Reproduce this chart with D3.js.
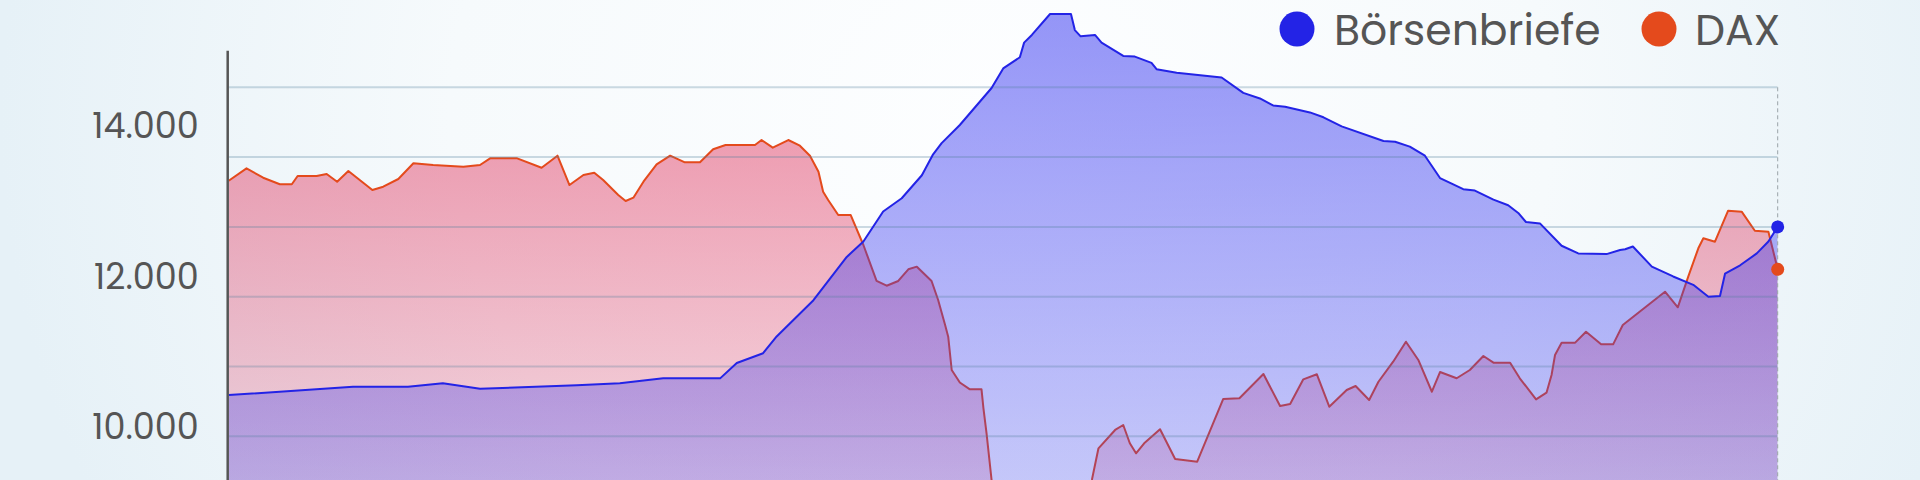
<!DOCTYPE html>
<html><head><meta charset="utf-8">
<script src="https://cdn.jsdelivr.net/npm/d3@7"></script>
<style>
html,body{margin:0;padding:0;width:1920px;height:480px;overflow:hidden;}
svg{display:block;}
</style></head>
<body>
<svg id="chart" width="1920" height="480"></svg>
<script>
// ---- data (x = day index of the period) ----
const seriesNames = ["Börsenbriefe", "DAX"];
const seriesColors = ["#2323e6", "#e44a1c"];
const daxTickLabels = [10000, 12000, 14000];
const gridValues = [110, 120, 130, 140, 150, 160];

const boersenDays = [0,32.1,46.3,55.3,64.9,89.9,101.0,112.2,126.9,131.2,138.0,141.5,151.0,159.6,163.9,169.0,173.8,179.0,181.9,184.1,188.8,197.0,200.0,204.3,205.4,207.4,212.1,217.5,218.5,220.0,223.7,225.4,231.0,234.0,238.3,239.6,244.8,256.4,262.0,266.3,269.7,272.8,279.2,282.7,287.4,298.2,301.2,305.0,308.9,312.8,315.4,318.8,321.8,326.6,330.4,333.0,335.0,338.6,344.2,348.5,355.8,359.3,360.6,362.6,367.5,373.0,378.2,382.1,385.1,386.4,390.3,394.6,397.6,400];
const boersenValues = [115.9,117.1,117.1,117.6,116.8,117.3,117.6,118.3,118.3,120.5,121.9,124.3,129.5,135.7,137.9,142.2,144.1,147.4,150.4,152.0,154.6,159.9,162.7,164.3,166.4,167.5,170.5,170.5,168.2,167.3,167.5,166.4,164.5,164.4,163.5,162.6,162.1,161.4,159.2,158.4,157.4,157.2,156.4,155.7,154.4,152.3,152.2,151.5,150.2,147.0,146.3,145.4,145.2,143.9,143.1,142.0,140.7,140.5,137.3,136.2,136.1,136.7,136.8,137.2,134.3,132.9,131.7,130.0,130.1,133.3,134.5,136.2,137.9,140.0];

const daxDays = [0,4.6,8.9,13.2,16.3,17.8,22.7,25.3,28.0,30.9,37.1,39.9,43.8,47.7,52.8,60.6,64.9,67.5,74.5,80.8,84.9,88.0,91.6,94.4,96.7,100.6,102.5,104.5,107.1,110.5,114.0,117.8,121.7,125.1,128.3,135.9,137.6,140.5,144.5,147.5,150.1,152.3,153.5,154.8,157.4,160.6,163.9,167.3,169.9,172.9,175.5,177.7,181.5,183.2,185.0,185.8,186.7,188.8,191.4,194.4,194.9,195.7,197.0,198.7,202.3,206.4,210.8,214.7,218.5,221.4,222.9,224.6,228.9,231.0,232.7,234.3,236.4,240.5,244.4,250.1,256.8,261.0,267.2,271.5,274.1,277.5,281.0,284.2,288.7,291.0,294.5,296.9,300.7,304.0,307.2,310.7,312.8,317.1,320.5,324.0,326.6,330.9,333.4,337.6,340.3,341.6,342.5,344.2,347.7,350.5,354.4,357.5,360.0,362.7,370.9,374.2,376.9,379.5,380.8,383.8,387.2,390.7,394.1,397.6,400];
const daxValues = [13266,13431,13306,13219,13219,13329,13329,13356,13253,13395,13143,13187,13289,13498,13475,13453,13475,13564,13564,13439,13599,13209,13342,13373,13276,13076,12997,13041,13253,13484,13599,13511,13511,13684,13741,13741,13807,13705,13807,13732,13599,13386,13120,13010,12811,12811,12412,11934,11871,11934,12089,12124,11934,11681,11349,11193,10751,10585,10494,10494,10242,9910,9289,8440,8900,8550,9000,8750,8900,9050,9289,9710,9954,10020,9777,9644,9777,9963,9568,9532,10365,10375,10698,10272,10299,10627,10694,10263,10485,10538,10352,10595,10861,11127,10884,10462,10724,10641,10751,10937,10848,10848,10641,10361,10449,10684,10950,11114,11114,11260,11092,11092,11349,11459,11791,11584,11991,12368,12501,12456,12868,12855,12602,12589,12089];

// ---- layout ----
const W = 1920, H = 480;
const left = 228.7, right = 1777.7;
const FONT = "Poppins, 'Open Sans', sans-serif";
const svg = d3.select("#chart");
const defs = svg.append("defs");

// background
const bg = defs.append("radialGradient").attr("id","bg")
  .attr("gradientUnits","userSpaceOnUse").attr("cx",1000).attr("cy",120).attr("r",1000)
  .attr("gradientTransform","translate(1000,120) scale(1,0.9) translate(-1000,-120)");
bg.append("stop").attr("offset","0").attr("stop-color","#fdfeff");
bg.append("stop").attr("offset","0.55").attr("stop-color","#f6fafc");
bg.append("stop").attr("offset","1").attr("stop-color","#e6f1f7");
svg.append("rect").attr("width",W).attr("height",H).attr("fill","url(#bg)");

function grad(id, color, a0, a1){
  const g = defs.append("linearGradient").attr("id",id)
    .attr("gradientUnits","userSpaceOnUse").attr("x1",0).attr("x2",0).attr("y1",0).attr("y2",480);
  g.append("stop").attr("offset","0").attr("stop-color",color).attr("stop-opacity",a0);
  g.append("stop").attr("offset","1").attr("stop-color",color).attr("stop-opacity",a1);
}
grad("gDax","#e13c64",0.62,0.19);
grad("gBB","#3232f0",0.52,0.26);

const x = d3.scaleLinear().domain([0,400]).range([left,right]);
const yDax = d3.scaleLinear().domain([10000,14000]).range([426.5,125.5]);
const yBB = d3.scaleLinear().domain([110,160]).range([436.3,87.3]);
const base = 620;

const dax = daxDays.map((d,i)=>({d, v:daxValues[i]}));
const bb = boersenDays.map((d,i)=>({d, v:boersenValues[i]}));

const clip = defs.append("clipPath").attr("id","plotclip");
clip.append("rect").attr("x",left).attr("y",0).attr("width",right-left).attr("height",H);

const g = svg.append("g").attr("clip-path","url(#plotclip)");

g.append("path").datum(dax)
  .attr("d", d3.area().x(p=>x(p.d)).y0(base).y1(p=>yDax(p.v)))
  .attr("fill","url(#gDax)");
g.append("path").datum(dax)
  .attr("d", d3.line().x(p=>x(p.d)).y(p=>yDax(p.v)))
  .attr("fill","none").attr("stroke",seriesColors[1]).attr("stroke-width",2).attr("stroke-linejoin","round");

g.append("path").datum(bb)
  .attr("d", d3.area().x(p=>x(p.d)).y0(base).y1(p=>yBB(p.v)))
  .attr("fill","url(#gBB)");

// grid
g.selectAll("line.grid").data(gridValues).join("line").attr("class","grid")
  .attr("x1",left).attr("x2",right).attr("y1",d=>yBB(d)).attr("y2",d=>yBB(d))
  .attr("stroke","#4f7f9c").attr("stroke-opacity",0.28).attr("stroke-width",2);

g.append("path").datum(bb)
  .attr("d", d3.line().x(p=>x(p.d)).y(p=>yBB(p.v)))
  .attr("fill","none").attr("stroke",seriesColors[0]).attr("stroke-width",2).attr("stroke-linejoin","round");

// dashed end line
svg.append("line").attr("x1",right).attr("x2",right).attr("y1",yBB(160)).attr("y2",H)
  .attr("stroke","#9aa3a8").attr("stroke-width",1).attr("stroke-dasharray","4,3");

// end dots
svg.append("circle").attr("cx",x(daxDays[daxDays.length-1])).attr("cy",yDax(daxValues[daxValues.length-1]))
  .attr("r",6.5).attr("fill",seriesColors[1]);
svg.append("circle").attr("cx",x(boersenDays[boersenDays.length-1])).attr("cy",yBB(boersenValues[boersenValues.length-1]))
  .attr("r",6.5).attr("fill",seriesColors[0]);

// left axis
const de = d3.formatLocale({decimal:",", thousands:".", grouping:[3], currency:["","€"]});
const axis = d3.axisLeft(yDax).tickValues(daxTickLabels).tickFormat(de.format(",")).tickSize(0).tickPadding(30);
const ax = svg.append("g").attr("transform",`translate(${left},0)`).call(axis);
ax.select(".domain").remove();
ax.selectAll("text").attr("fill","#555").style("font-family",FONT)
  .style("font-size","35px").attr("dy","0.35em");
svg.append("line").attr("x1",left-1).attr("x2",left-1).attr("y1",50.7).attr("y2",H)
  .attr("stroke","#555").attr("stroke-width",2.5);

// legend
const legend = svg.append("g");
const legendItems = [
  {name: seriesNames[0], color: seriesColors[0], cx: 1297, tx: 1334},
  {name: seriesNames[1], color: seriesColors[1], cx: 1659, tx: 1695}
];
legendItems.forEach(it=>{
  legend.append("circle").attr("cx",it.cx).attr("cy",29).attr("r",17.5).attr("fill",it.color);
  legend.append("text").attr("x",it.tx).attr("y",45).text(it.name)
    .attr("fill","#555").style("font-family",FONT).style("font-size","42.5px");
});
</script>
</body></html>
